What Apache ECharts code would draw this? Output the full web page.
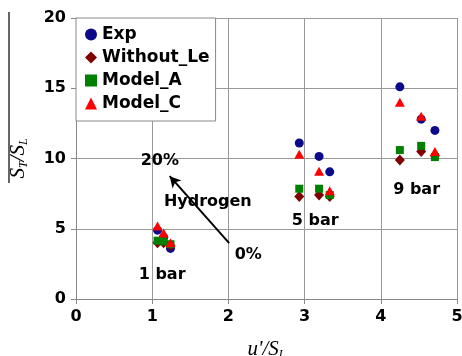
<!DOCTYPE html>
<html>
<head>
<meta charset="utf-8">
<script src="https://cdn.jsdelivr.net/npm/echarts@6/dist/echarts.min.js"></script>
<style>
  html, body { margin: 0; padding: 0; background: #fff; }
  #chart { width: 462px; height: 356px; }
</style>
</head>
<body>
<div id="chart"></div>
<script>
// data: [u'/SL, ST/SL]
var exp      = [[1.07, 4.9], [1.15, 4.4], [1.24, 3.6], [2.93, 11.1], [3.19, 10.15], [3.33, 9.05], [4.25, 15.1], [4.53, 12.8], [4.71, 12.0]];
var withoutLe = [[1.07, 4.0], [1.15, 4.0], [1.24, 3.8], [2.93, 7.3], [3.19, 7.4], [3.33, 7.3], [4.25, 9.9], [4.53, 10.5], [4.71, 10.2]];
var modelA   = [[1.07, 4.15], [1.15, 4.1], [1.24, 3.9], [2.93, 7.85], [3.19, 7.85], [3.33, 7.4], [4.25, 10.6], [4.53, 10.9], [4.71, 10.1]];
var modelC   = [[1.07, 5.2], [1.15, 4.7], [1.24, 4.0], [2.93, 10.3], [3.19, 9.1], [3.33, 7.7], [4.25, 14.0], [4.53, 13.0], [4.71, 10.5]];

var xTicks = [0, 1, 2, 3, 4, 5];
var yTicks = [0, 5, 10, 15, 20];

// text notes on the plot, in data units
var notes = [
    {value: [1.10, 9.8], text: '20%'},
    {value: [1.73, 6.93], text: 'Hydrogen'},
    {value: [2.26, 3.14], text: '0%'},
    {value: [1.13, 1.71], text: '1 bar'},
    {value: [3.14, 5.57], text: '5 bar'},
    {value: [4.47, 7.79], text: '9 bar'}
];
// arrow 0% -> 20%
var arrowFrom = [2.01, 3.98];
var arrowTo = [1.23, 8.74];

var labelFont = {
    fontFamily: 'DejaVu Sans',
    fontWeight: 'bold',
    fontSize: 16,
    color: '#000'
};

var chart = echarts.init(document.getElementById('chart'));

var option = {
    animation: false,
    backgroundColor: '#fff',
    grid: {
        left: 76,
        right: 5,
        top: 18,
        bottom: 57,
        containLabel: false,
        outerBoundsMode: 'none'
    },
    legend: {
        orient: 'vertical',
        left: 76,
        top: 18,
        padding: [8, 6, 9, 9],
        itemGap: 6,
        itemWidth: 12,
        itemHeight: 12,
        backgroundColor: '#fff',
        borderColor: '#888',
        borderWidth: 1,
        borderRadius: 0,
        textStyle: {
            fontFamily: 'DejaVu Sans',
            fontWeight: 'bold',
            fontSize: 17,
            color: '#000'
        },
        data: ['Exp', 'Without_Le', 'Model_A', 'Model_C']
    },
    xAxis: {
        type: 'value',
        min: xTicks[0],
        max: xTicks[xTicks.length - 1],
        interval: 1,
        name: "{i|u'/S}{sub|L}",
        nameLocation: 'middle',
        nameGap: 38,
        nameTextStyle: {
            rich: {
                i: {fontFamily: 'Liberation Serif', fontStyle: 'italic', fontSize: 21, color: '#000'},
                sub: {fontFamily: 'Liberation Serif', fontStyle: 'italic', fontSize: 12, color: '#000', padding: [12, 0, 0, 0]}
            }
        },
        axisLine: {lineStyle: {color: '#888', width: 1}},
        axisTick: {show: true, inside: false, length: 5, lineStyle: {color: '#888'}},
        axisLabel: Object.assign({margin: 10}, labelFont),
        splitLine: {show: true, lineStyle: {color: '#999', width: 1}}
    },
    yAxis: {
        type: 'value',
        min: yTicks[0],
        max: yTicks[yTicks.length - 1],
        interval: 5,
        name: '{i|S}{sub|T}{i|/S}{sub|L}',
        nameLocation: 'middle',
        nameRotate: 90,
        nameGap: 46,
        nameTextStyle: {
            rich: {
                i: {fontFamily: 'Liberation Serif', fontStyle: 'italic', fontSize: 21, color: '#000'},
                sub: {fontFamily: 'Liberation Serif', fontStyle: 'italic', fontSize: 12, color: '#000', padding: [12, 0, 0, 0]}
            }
        },
        axisLine: {show: true, lineStyle: {color: '#888', width: 1}},
        axisTick: {show: true, inside: false, length: 5, lineStyle: {color: '#888'}},
        axisLabel: Object.assign({margin: 10}, labelFont),
        splitLine: {show: true, lineStyle: {color: '#999', width: 1}}
    },
    graphic: [
        {
            // overline above the y axis title
            type: 'line',
            shape: {x1: 9, y1: 12, x2: 9, y2: 183},
            style: {stroke: '#333', lineWidth: 1.5}
        }
    ],
    series: [
        {
            name: 'Exp',
            type: 'scatter',
            symbol: 'circle',
            symbolSize: 9,
            itemStyle: {color: '#0a0a8a', opacity: 1},
            data: exp
        },
        {
            name: 'Without_Le',
            type: 'scatter',
            symbol: 'diamond',
            symbolSize: [10, 11],
            itemStyle: {color: '#800000', opacity: 1},
            data: withoutLe
        },
        {
            name: 'Model_A',
            type: 'scatter',
            symbol: 'rect',
            symbolSize: 8,
            itemStyle: {color: '#008000', opacity: 1},
            data: modelA
        },
        {
            name: 'Model_C',
            type: 'scatter',
            symbol: 'triangle',
            symbolSize: [10, 9],
            itemStyle: {color: '#ff0000', opacity: 1},
            data: modelC
        },
        {
            name: 'notes',
            type: 'scatter',
            symbolSize: 0,
            silent: true,
            z: 5,
            itemStyle: {opacity: 1},
            label: Object.assign({
                show: true,
                position: 'inside',
                formatter: function (p) { return p.data.text; }
            }, labelFont),
            data: notes,
            markLine: {
                silent: true,
                symbol: ['none', 'arrow'],
                symbolSize: [9, 11],
                label: {show: false},
                lineStyle: {color: '#000', width: 2, type: 'solid', opacity: 1},
                data: [[{coord: arrowFrom}, {coord: arrowTo}]]
            }
        }
    ]
};

chart.setOption(option);
</script>
</body>
</html>
